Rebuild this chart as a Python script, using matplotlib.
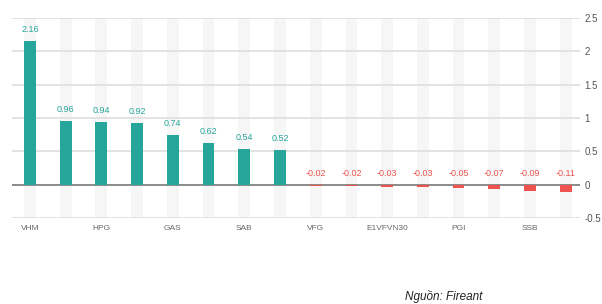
import matplotlib
matplotlib.use("Agg")
import matplotlib.pyplot as plt

plt.rcParams['font.family'] = ['Liberation Sans Narrow', 'Liberation Sans', 'DejaVu Sans']

tickers = ["VHM", "", "HPG", "", "GAS", "", "SAB", "", "VFG", "", "E1VFVN30", "", "PGI", "", "SSB", ""]
values = [2.16, 0.96, 0.94, 0.92, 0.74, 0.62, 0.54, 0.52,
          -0.02, -0.02, -0.03, -0.03, -0.05, -0.07, -0.09, -0.11]

teal = '#26a69a'
red = '#ef5350'

fig = plt.figure(figsize=(6.02, 3.04), dpi=100)
ax = fig.add_axes([0.02, 0.283, 0.9435, 0.658])

xs = list(range(len(values)))
bw = 0.33

# light background bands behind each category
ax.bar(xs, [3.0] * len(xs), bottom=-0.5, width=bw, color='#f6f6f6', zorder=0)

# gridlines
for g in [-0.5, 0.5, 1, 1.5, 2, 2.5]:
    ax.axhline(g, color='#e0e0e0', lw=1.3, zorder=1)
ax.axhline(0, color='#8a8a8a', lw=1.4, zorder=2)

colors = [teal if v >= 0 else red for v in values]
ax.bar(xs, values, width=bw, color=colors, zorder=3)

for x, v, c in zip(xs, values, colors):
    ax.annotate(f"{v:.2f}", (x, max(v, 0)), xytext=(0, 5), textcoords='offset points',
                ha='center', va='bottom', fontsize=6.5, color=c)

ax.set_xlim(-0.5, 15.4)
ax.set_ylim(-0.5, 2.5)
ax.set_xticks(xs)
ax.set_xticklabels(tickers, fontsize=6, color='#666666')
ax.yaxis.tick_right()
ax.set_yticks([-0.5, 0, 0.5, 1, 1.5, 2, 2.5])
ax.set_yticklabels(['-0.5', '0', '0.5', '1', '1.5', '2', '2.5'], fontsize=7, color='#555555')
ax.tick_params(axis='both', length=0, pad=5)
ax.tick_params(axis='y', pad=3)
for s in ax.spines.values():
    s.set_visible(False)

fig.text(0.673, 0.012, "Nguồn: Fireant", fontsize=8.5, style='italic', color='#222222')

fig.savefig("out.png", dpi=100)
